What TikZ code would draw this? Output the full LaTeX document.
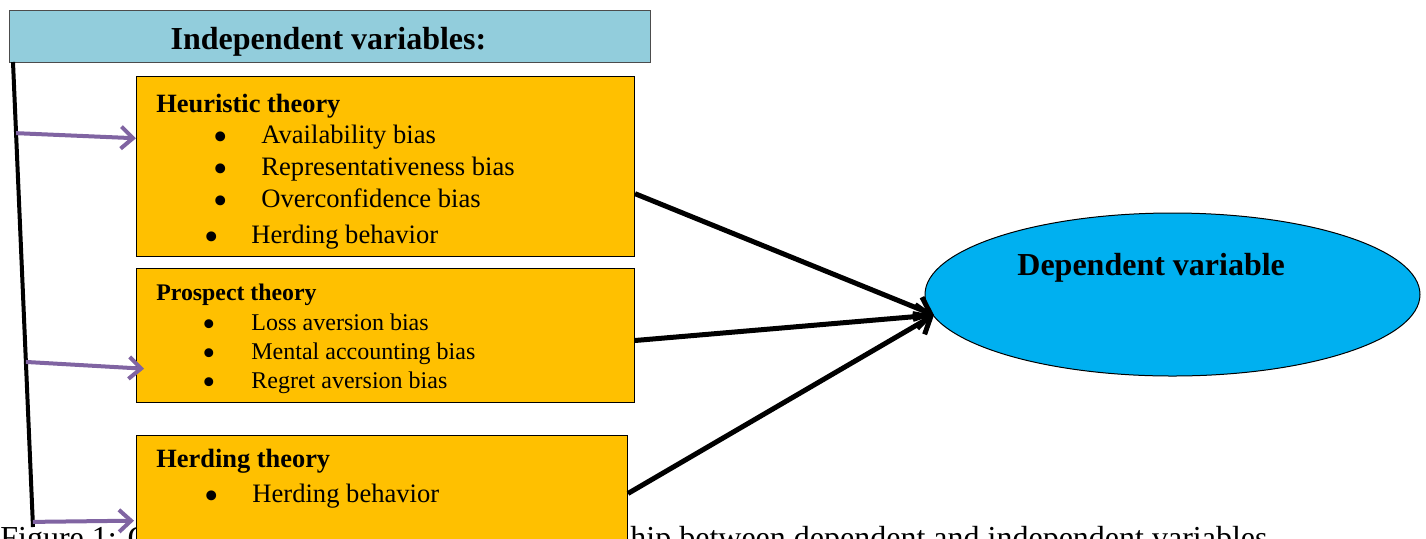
\documentclass[tikz,border=0pt]{standalone}
\usepackage{fontspec}
\setmainfont{Liberation Serif}
\usetikzlibrary{arrows.meta,calc,shapes.geometric}
\definecolor{headblue}{HTML}{92CDDC}
\definecolor{boxorange}{HTML}{FFC000}
\definecolor{ellblue}{HTML}{00B0F0}
\definecolor{feedpurple}{HTML}{8064A2}
\newcommand{\blt}[2]{\makebox[#1][l]{\raisebox{-0.27em}[0pt][0pt]{\scalebox{1.55}{\textbullet}}}#2}

\begin{document}
\begin{tikzpicture}[x=0.5pt,y=-0.5pt,
    headbox/.style={draw=black!70,fill=headblue,line width=0.5pt,inner sep=0pt,anchor=north west},
    theorybox/.style={draw=black,fill=boxorange,line width=0.5pt,inner sep=0pt,anchor=north west},
    txt/.style={anchor=base west,inner sep=0pt},
    big/.style={font=\fontsize{16}{18}\selectfont},
    bigbold/.style={font=\fontsize{16}{18}\selectfont\bfseries},
    mid/.style={font=\fontsize{13.3}{15}\selectfont},
    midbold/.style={font=\fontsize{13.2}{15}\selectfont\bfseries},
    small/.style={font=\fontsize{12}{14}\selectfont},
    smallbold/.style={font=\fontsize{11.9}{14}\selectfont\bfseries},
    link/.style={line width=2.5pt,-{Straight Barb[length=7pt,width=12pt]}},
    feed/.style={line width=2pt,draw=feedpurple,-{Straight Barb[length=6pt,width=11pt]}}]
    \useasboundingbox (0,0) rectangle (1426,538);
    \node[txt,big] (capleft) at (0,548) {Figure 1: C};
    \node[txt,big] (capright) at (630,548) {hip between dependent and independent variables};
    \node[headbox,minimum width=320.5pt,minimum height=26pt] (head) at (9,10) {};
    \node[anchor=base,inner sep=0pt,bigbold] (headtext) at (328.5,49) {Independent variables:};
    \node[theorybox,minimum width=249pt,minimum height=90pt] (heur) at (136,76) {};
    \node[theorybox,minimum width=249pt,minimum height=67pt] (pros) at (136,268) {};
    \node[theorybox,minimum width=245.5pt,minimum height=60pt] (herd) at (136,435) {};
    \node[ellipse,draw=black,fill=ellblue,line width=0.5pt,minimum width=247.5pt,minimum height=81.5pt,inner sep=0pt] (dep) at (1172.5,294.5) {};
    \node[txt,bigbold] (deptext) at (1017,275) {Dependent variable};
    \node[txt,midbold] (heurtitle) at (156,112) {Heuristic theory};
    \node[txt,mid] (heurA) at (213.5,143) {\blt{23.75pt}{Availability bias}};
    \node[txt,mid] (heurB) at (213.5,175) {\blt{23.75pt}{Representativeness bias}};
    \node[txt,mid] (heurC) at (213.5,207) {\blt{23.75pt}{Overconfidence bias}};
    \node[txt,mid] (heurD) at (204.5,243) {\blt{23.25pt}{Herding behavior}};
    \node[txt,smallbold] (prostitle) at (156,300) {Prospect theory};
    \node[txt,small] (prosA) at (202,330) {\blt{24.5pt}{Loss aversion bias}};
    \node[txt,small] (prosB) at (202,359) {\blt{24.5pt}{Mental accounting bias}};
    \node[txt,small] (prosC) at (202,388) {\blt{24.5pt}{Regret aversion bias}};
    \node[txt,midbold] (herdtitle) at (156,467) {Herding theory};
    \node[txt,mid] (herdA) at (204.5,502) {\blt{23.75pt}{Herding behavior}};
    \coordinate (spinetop) at (13,62);
    \coordinate (spinebot) at (33,527);
    \draw[line width=2pt] (spinetop) -- (spinebot);
    \draw[feed] ($(spinetop)!0.153!(spinebot)$) -- ($(heur.north west)!0.344!(heur.south west)$);
    \draw[feed] ($(spinetop)!0.645!(spinebot)$) -- ($(pros.north west)!0.746!(pros.south west)+(8,0)$);
    \draw[feed] ($(spinetop)!0.989!(spinebot)$) -- ($(herd.north west)!0.708!(herd.south west)+(-2,0)$);
    \coordinate (deptip) at (934,315);
    \draw[link] ($(heur.north east)!0.65!(heur.south east)$) -- (deptip);
    \draw[link] ($(pros.north east)!0.537!(pros.south east)$) -- (deptip);
    \draw[link] ($(herd.north east)!0.483!(herd.south east)$) -- (deptip);
\end{tikzpicture}
\end{document}
